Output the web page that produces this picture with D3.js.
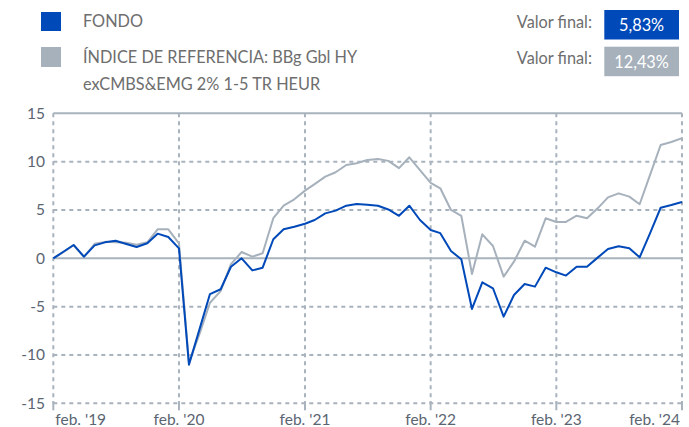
<!DOCTYPE html>
<meta charset="utf-8">
<style>
body { margin: 0; background: #fff; }
svg { display: block; font-family: Lato, 'Open Sans', sans-serif; }
.grid line { stroke: #a9b3bd; stroke-width: 2; stroke-dasharray: 4,4; }
.grid .solid { stroke-dasharray: none; }
.tick-label { fill: #5b6572; font-size: 15.5px; }
.legend-text { fill: #6e6e6e; font-size: 16.3px; }
</style>
<svg width="689" height="427"></svg>
<script src="https://d3js.org/d3.v7.min.js"></script>
<script>

// monthly returns since feb 2019 (%)
var startMonth = new Date(2019, 1, 1);
var fondo = [0, 0.65, 1.38, 0.17, 1.34, 1.65, 1.82, 1.48, 1.17, 1.55, 2.55, 2.2,
  1.03, -11.0, -7.3, -3.7, -3.2, -0.87, 0.0, -1.25, -0.97, 1.97, 3.0, 3.27,
  3.58, 3.96, 4.65, 4.93, 5.44, 5.62, 5.55, 5.43, 5.05, 4.4, 5.44, 3.96,
  2.93, 2.6, 0.75, -0.1, -5.24, -2.48, -3.1, -6.04, -3.8, -2.66, -2.93, -0.97,
  -1.45, -1.79, -0.87, -0.87, 0.07, 0.96, 1.24, 1.03, 0.1, 2.66, 5.23, 5.51, 5.83];
var indice = [0, 0.6, 1.35, 0.15, 1.5, 1.7, 1.65, 1.6, 1.4, 1.65, 3.0, 3.0,
  1.55, -10.8, -7.8, -4.6, -3.4, -0.6, 0.65, 0.17, 0.52, 4.15, 5.45, 6.1,
  7.0, 7.68, 8.45, 8.9, 9.65, 9.83, 10.17, 10.27, 10.08, 9.33, 10.45, 9.13,
  7.8, 7.24, 5.0, 4.4, -1.62, 2.48, 1.27, -1.9, -0.35, 1.82, 1.2, 4.14,
  3.76, 3.76, 4.41, 4.14, 5.17, 6.3, 6.72, 6.38, 5.59, 8.7, 11.72, 12.03, 12.43];
var yTicks = [-15, -10, -5, 0, 5, 10, 15];
var xTickLabels = ["feb. '19", "feb. '20", "feb. '21", "feb. '22", "feb. '23", "feb. '24"];
var seriesNames = ["FONDO", "ÍNDICE DE REFERENCIA: BBg Gbl HY", "exCMBS&EMG 2% 1-5 TR HEUR"];
var finalValues = ["5,83%", "12,43%"];

var blue = "#0049b9", grey = "#a6b1bc";

var svg = d3.select("svg");
var plotLeft = 53.3, plotRight = 682, plotTop = 113.3, plotBottom = 403.3;

var months = fondo.map(function(d, i) { return d3.timeMonth.offset(startMonth, i); });
var x = d3.scaleTime()
    .domain([months[0], months[months.length - 1]])
    .range([plotLeft, plotRight]);
var y = d3.scaleLinear().domain([-15, 15]).range([plotBottom, plotTop]);
var yearTicks = xTickLabels.map(function(d, i) { return d3.timeYear.offset(startMonth, i); });

// grid
var grid = svg.append("g").attr("class", "grid");
grid.selectAll(".h").data(yTicks).enter().append("line")
    .attr("class", function(d) { return d === 0 || d === 15 ? "solid" : "h"; })
    .attr("x1", plotLeft).attr("x2", plotRight)
    .attr("y1", function(d) { return y(d); }).attr("y2", function(d) { return y(d); });
grid.selectAll(".v").data(yearTicks).enter().append("line")
    .attr("class", "v")
    .attr("x1", function(d) { return x(d); }).attr("x2", function(d) { return x(d); })
    .attr("y1", plotTop).attr("y2", plotBottom);
grid.selectAll(".tk").data(yearTicks).enter().append("line")
    .attr("class", "solid")
    .attr("x1", function(d) { return x(d); }).attr("x2", function(d) { return x(d); })
    .attr("y1", plotBottom - 2).attr("y2", plotBottom + 7);

// axis labels
svg.selectAll(".ylab").data(yTicks).enter().append("text")
    .attr("class", "tick-label")
    .attr("x", 45).attr("y", function(d) { return y(d) + 5.5; })
    .attr("text-anchor", "end")
    .text(function(d) { return d; });
svg.selectAll(".xlab").data(yearTicks).enter().append("text")
    .attr("class", "tick-label")
    .attr("x", function(d, i) { return i === 0 ? x(d) + 2 : i === yearTicks.length - 1 ? x(d) - 2 : x(d); })
    .attr("y", 425)
    .attr("text-anchor", function(d, i) { return i === 0 ? "start" : i === yearTicks.length - 1 ? "end" : "middle"; })
    .text(function(d, i) { return xTickLabels[i]; });

// lines
var line = d3.line()
    .x(function(d, i) { return x(months[i]); })
    .y(function(d) { return y(d); });
svg.append("path").datum(indice)
    .attr("d", line).attr("fill", "none")
    .attr("stroke", grey).attr("stroke-width", 2).attr("stroke-linejoin", "round");
svg.append("path").datum(fondo)
    .attr("d", line).attr("fill", "none")
    .attr("stroke", blue).attr("stroke-width", 2).attr("stroke-linejoin", "round");

// legend
svg.append("rect").attr("x", 41).attr("y", 12).attr("width", 20).attr("height", 19).attr("fill", blue);
svg.append("rect").attr("x", 41).attr("y", 47).attr("width", 20).attr("height", 20).attr("fill", grey);
svg.append("text").attr("class", "legend-text").attr("x", 83).attr("y", 26.5).text(seriesNames[0]);
svg.append("text").attr("class", "legend-text").attr("x", 83).attr("y", 62.5).text(seriesNames[1]);
svg.append("text").attr("class", "legend-text").attr("x", 83).attr("y", 89.5).text(seriesNames[2]);

// final values
[blue, grey].forEach(function(c, i) {
  var yy = i === 0 ? 10 : 46.7;
  svg.append("text").attr("class", "legend-text")
      .attr("x", 592).attr("y", yy + 17.5).attr("text-anchor", "end").text("Valor final:");
  svg.append("rect").attr("x", 604.3).attr("y", yy).attr("width", 74.7).attr("height", 29.5).attr("fill", c);
  svg.append("text").attr("x", 641.6).attr("y", yy + 21)
      .attr("text-anchor", "middle").attr("fill", "#fff").style("font-size", "16.3px")
      .text(finalValues[i]);
});
</script>
